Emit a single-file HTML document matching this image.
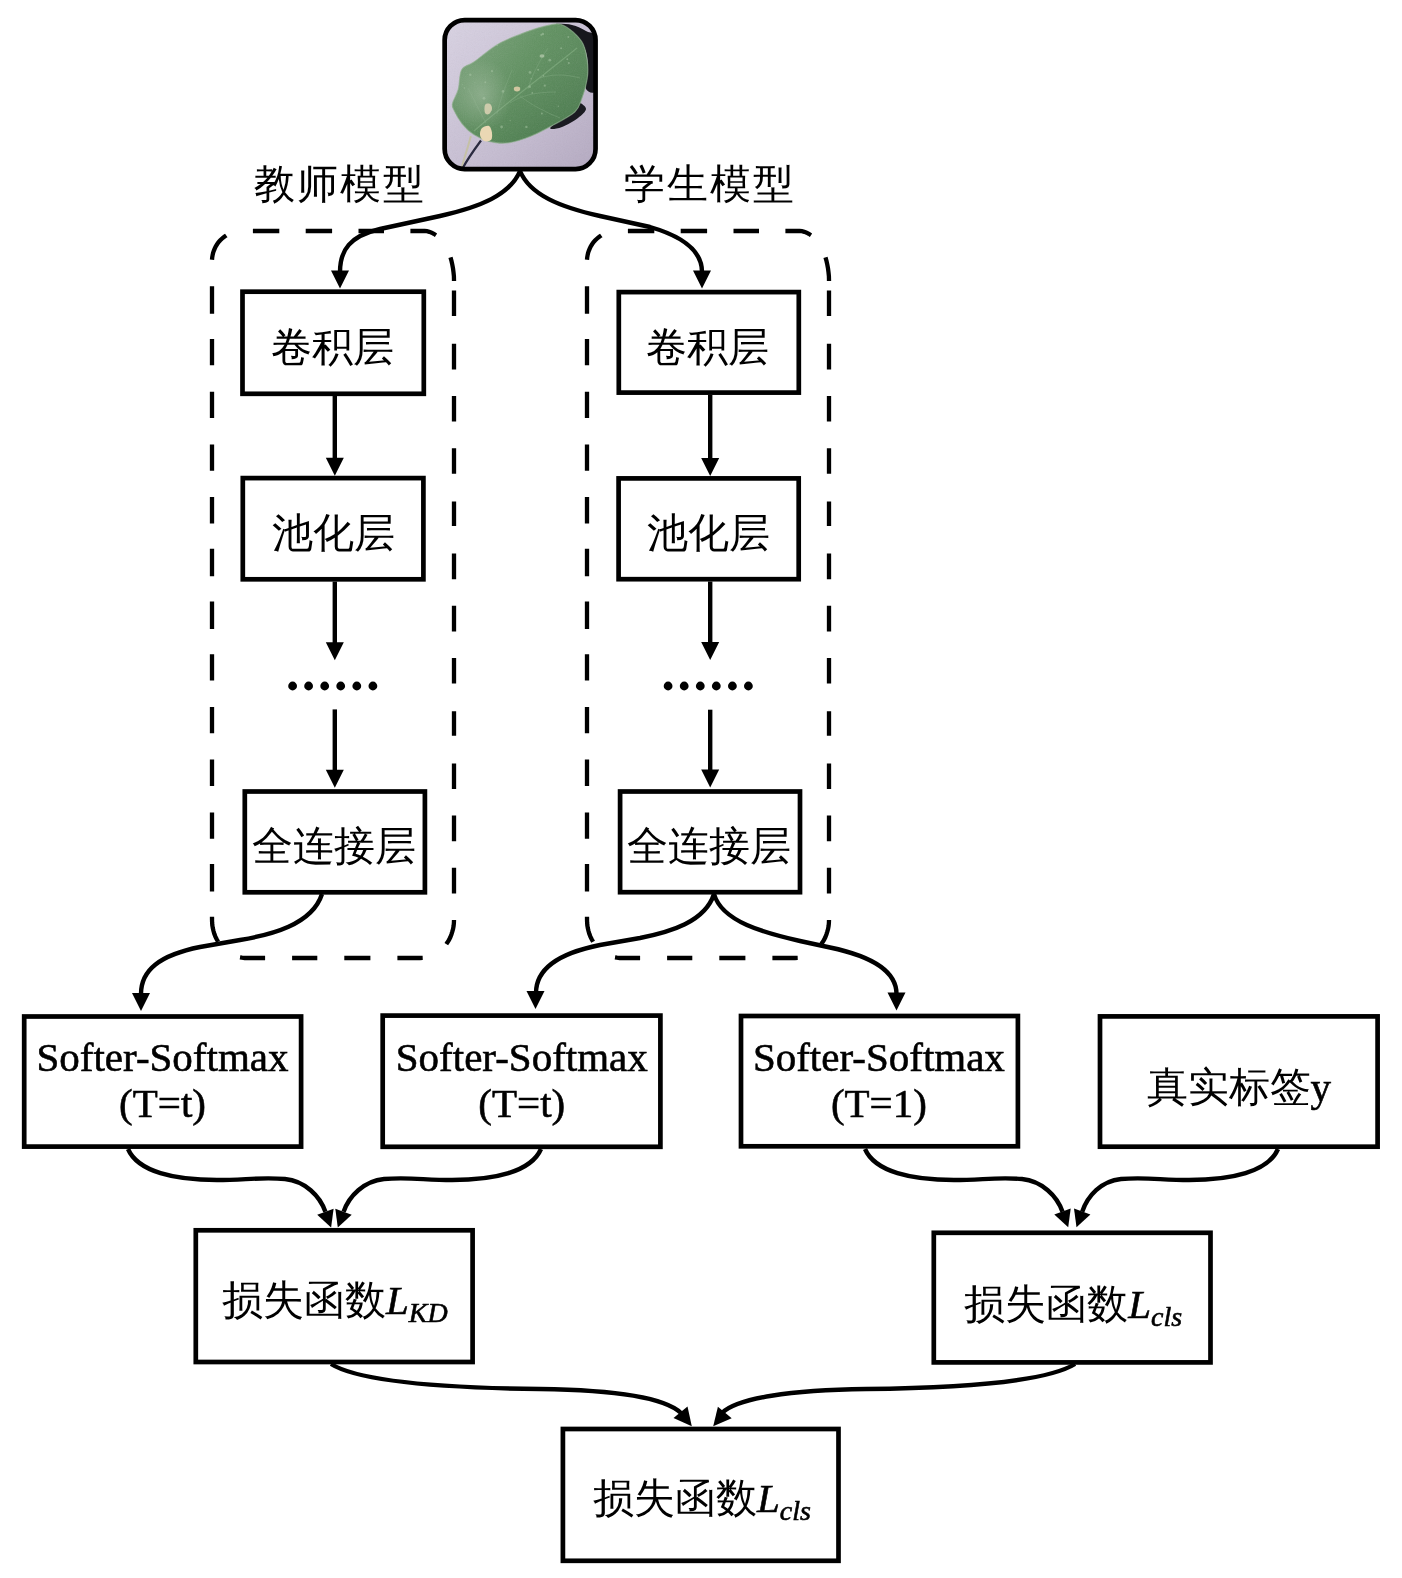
<!DOCTYPE html><html><head><meta charset="utf-8"><style>html,body{margin:0;padding:0;background:#fff;width:1402px;height:1578px;overflow:hidden}svg{display:block;will-change:transform}text{font-family:"Liberation Serif",serif;fill:#000}.lat{stroke:#000;stroke-width:0.6px}</style></head><body>
<svg width="1402" height="1578" viewBox="0 0 1402 1578">
<defs><linearGradient id="bg" x1="0" y1="0" x2="1" y2="1"><stop offset="0" stop-color="#dad4e4"/><stop offset="0.6" stop-color="#c6bdd2"/><stop offset="1" stop-color="#b3a8c0"/></linearGradient><linearGradient id="lf" x1="0" y1="0.2" x2="1" y2="0.8"><stop offset="0" stop-color="#7ca47c"/><stop offset="0.45" stop-color="#5f915f"/><stop offset="1" stop-color="#4c7d4f"/></linearGradient><linearGradient id="lf2" x1="0" y1="0" x2="0.3" y2="1"><stop offset="0" stop-color="#9ab89a" stop-opacity="0"/><stop offset="1" stop-color="#3f6f43" stop-opacity="0.25"/></linearGradient><filter id="nz" x="0" y="0" width="100%" height="100%"><feTurbulence type="fractalNoise" baseFrequency="0.9" numOctaves="2" seed="3"/><feColorMatrix type="saturate" values="0"/></filter><clipPath id="lc"><rect x="444.6" y="20" width="151" height="149" rx="19"/></clipPath></defs>
<clipPath id="leafclip"><path d="M546.1,25.8 C553.3,24.3 557.4,22.7 563.3,25.3 C569.2,27.9 577.5,35.3 581.5,41.2 C585.5,47.1 586.2,54.3 587.2,60.6 C588.2,66.9 588.2,72.4 587.2,78.9 C586.2,85.4 583.6,94.0 581.5,99.5 C579.4,105.0 579.3,107.8 574.7,112.0 C570.1,116.2 561.3,120.6 554.1,124.6 C546.9,128.6 538.9,133.0 531.3,136.0 C523.7,139.0 515.4,141.9 508.5,142.8 C501.6,143.8 495.9,143.0 490.2,141.7 C484.5,140.4 478.8,137.7 474.2,134.8 C469.6,132.0 466.2,128.8 462.8,124.6 C459.4,120.4 455.4,113.3 453.7,109.7 C452.0,106.1 451.8,106.3 452.6,102.9 C453.4,99.5 456.8,94.7 458.3,89.2 C459.8,83.7 459.1,74.4 461.7,69.8 C464.3,65.2 468.3,66.0 474.2,61.8 C480.1,57.6 489.5,49.3 497.1,44.7 C504.7,40.1 511.7,37.5 519.9,34.4 C528.1,31.2 538.9,27.3 546.1,25.8 Z"/></clipPath>
<g clip-path="url(#lc)">
<rect x="440" y="15" width="160" height="160" fill="url(#bg)"/>
<rect x="440" y="15" width="160" height="160" filter="url(#nz)" opacity="0.10"/>
<path d="M556.0,24.0 C557.5,23.7 567.0,23.8 572.0,25.0 C577.0,26.2 582.0,28.5 586.0,31.0 C590.0,33.5 594.2,30.5 596.0,40.0 C597.8,49.5 598.7,79.8 597.0,88.0 C595.3,96.2 587.5,92.0 586.0,89.0 C584.5,86.0 588.0,76.2 588.0,70.0 C588.0,63.8 587.7,57.5 586.0,52.0 C584.3,46.5 581.8,41.2 578.0,37.0 C574.2,32.8 566.7,29.2 563.0,27.0 C559.3,24.8 554.5,24.3 556.0,24.0 Z" fill="#17171d"/>
<path d="M579.0,103.0 C580.9,102.5 586.2,106.5 586.0,109.0 C585.8,111.5 582.0,115.0 578.0,118.0 C574.0,121.0 566.5,125.2 562.0,127.0 C557.5,128.8 552.3,129.4 551.0,129.0 C549.7,128.6 550.0,127.4 554.0,124.6 C558.0,121.8 570.5,115.6 574.7,112.0 C578.9,108.4 577.1,103.5 579.0,103.0 Z" fill="#1b1b22"/>
<path d="M546.1,25.8 C553.3,24.3 557.4,22.7 563.3,25.3 C569.2,27.9 577.5,35.3 581.5,41.2 C585.5,47.1 586.2,54.3 587.2,60.6 C588.2,66.9 588.2,72.4 587.2,78.9 C586.2,85.4 583.6,94.0 581.5,99.5 C579.4,105.0 579.3,107.8 574.7,112.0 C570.1,116.2 561.3,120.6 554.1,124.6 C546.9,128.6 538.9,133.0 531.3,136.0 C523.7,139.0 515.4,141.9 508.5,142.8 C501.6,143.8 495.9,143.0 490.2,141.7 C484.5,140.4 478.8,137.7 474.2,134.8 C469.6,132.0 466.2,128.8 462.8,124.6 C459.4,120.4 455.4,113.3 453.7,109.7 C452.0,106.1 451.8,106.3 452.6,102.9 C453.4,99.5 456.8,94.7 458.3,89.2 C459.8,83.7 459.1,74.4 461.7,69.8 C464.3,65.2 468.3,66.0 474.2,61.8 C480.1,57.6 489.5,49.3 497.1,44.7 C504.7,40.1 511.7,37.5 519.9,34.4 C528.1,31.2 538.9,27.3 546.1,25.8 Z" fill="url(#lf)"/>
<path d="M546.1,25.8 C553.3,24.3 557.4,22.7 563.3,25.3 C569.2,27.9 577.5,35.3 581.5,41.2 C585.5,47.1 586.2,54.3 587.2,60.6 C588.2,66.9 588.2,72.4 587.2,78.9 C586.2,85.4 583.6,94.0 581.5,99.5 C579.4,105.0 579.3,107.8 574.7,112.0 C570.1,116.2 561.3,120.6 554.1,124.6 C546.9,128.6 538.9,133.0 531.3,136.0 C523.7,139.0 515.4,141.9 508.5,142.8 C501.6,143.8 495.9,143.0 490.2,141.7 C484.5,140.4 478.8,137.7 474.2,134.8 C469.6,132.0 466.2,128.8 462.8,124.6 C459.4,120.4 455.4,113.3 453.7,109.7 C452.0,106.1 451.8,106.3 452.6,102.9 C453.4,99.5 456.8,94.7 458.3,89.2 C459.8,83.7 459.1,74.4 461.7,69.8 C464.3,65.2 468.3,66.0 474.2,61.8 C480.1,57.6 489.5,49.3 497.1,44.7 C504.7,40.1 511.7,37.5 519.9,34.4 C528.1,31.2 538.9,27.3 546.1,25.8 Z" fill="url(#lf2)"/>
<path d="M546.1,25.8 C553.3,24.3 557.4,22.7 563.3,25.3 C569.2,27.9 577.5,35.3 581.5,41.2 C585.5,47.1 586.2,54.3 587.2,60.6 C588.2,66.9 588.2,72.4 587.2,78.9 C586.2,85.4 583.6,94.0 581.5,99.5 C579.4,105.0 579.3,107.8 574.7,112.0 C570.1,116.2 561.3,120.6 554.1,124.6 C546.9,128.6 538.9,133.0 531.3,136.0 C523.7,139.0 515.4,141.9 508.5,142.8 C501.6,143.8 495.9,143.0 490.2,141.7 C484.5,140.4 478.8,137.7 474.2,134.8 C469.6,132.0 466.2,128.8 462.8,124.6 C459.4,120.4 455.4,113.3 453.7,109.7 C452.0,106.1 451.8,106.3 452.6,102.9 C453.4,99.5 456.8,94.7 458.3,89.2 C459.8,83.7 459.1,74.4 461.7,69.8 C464.3,65.2 468.3,66.0 474.2,61.8 C480.1,57.6 489.5,49.3 497.1,44.7 C504.7,40.1 511.7,37.5 519.9,34.4 C528.1,31.2 538.9,27.3 546.1,25.8 Z" fill="none" stroke="#8fb08e" stroke-width="1.2" opacity="0.6"/>
<rect x="440" y="15" width="160" height="160" clip-path="url(#leafclip)" filter="url(#nz)" opacity="0.12"/>
<path d="M474,131 C500,108 540,78 577,48" stroke="#8ab488" stroke-width="1.2" fill="none" opacity="0.55"/>
<path d="M497,114 C500,100 506,85 512,70" stroke="#86ad86" stroke-width="0.9" fill="none" opacity="0.45"/>
<path d="M510,103 C520,96 535,92 556,92" stroke="#86ad86" stroke-width="0.9" fill="none" opacity="0.45"/>
<path d="M528,89 C532,75 540,60 548,48" stroke="#86ad86" stroke-width="0.9" fill="none" opacity="0.45"/>
<path d="M540,78 C552,74 565,74 580,78" stroke="#86ad86" stroke-width="0.9" fill="none" opacity="0.45"/>
<path d="M486,123 C480,112 474,100 468,88" stroke="#86ad86" stroke-width="0.9" fill="none" opacity="0.45"/>
<path d="M520,96 C530,104 545,112 560,118" stroke="#86ad86" stroke-width="0.9" fill="none" opacity="0.45"/>
<circle cx="497.1" cy="44.9" r="1.1" fill="#a9c7a6" opacity="0.5" clip-path="url(#leafclip)"/>
<circle cx="464.4" cy="88.0" r="0.8" fill="#a9c7a6" opacity="0.5" clip-path="url(#leafclip)"/>
<circle cx="462.5" cy="84.8" r="0.5" fill="#a9c7a6" opacity="0.5" clip-path="url(#leafclip)"/>
<circle cx="511.4" cy="35.8" r="0.6" fill="#a9c7a6" opacity="0.5" clip-path="url(#leafclip)"/>
<circle cx="510.2" cy="120.6" r="0.6" fill="#a9c7a6" opacity="0.5" clip-path="url(#leafclip)"/>
<circle cx="484.0" cy="98.3" r="1.4" fill="#a9c7a6" opacity="0.5" clip-path="url(#leafclip)"/>
<circle cx="530.0" cy="72.4" r="1.4" fill="#a9c7a6" opacity="0.5" clip-path="url(#leafclip)"/>
<circle cx="461.1" cy="124.1" r="0.8" fill="#a9c7a6" opacity="0.5" clip-path="url(#leafclip)"/>
<circle cx="473.8" cy="41.2" r="0.8" fill="#a9c7a6" opacity="0.5" clip-path="url(#leafclip)"/>
<circle cx="561.1" cy="48.2" r="1.0" fill="#a9c7a6" opacity="0.5" clip-path="url(#leafclip)"/>
<circle cx="538.1" cy="69.7" r="1.0" fill="#a9c7a6" opacity="0.5" clip-path="url(#leafclip)"/>
<circle cx="463.2" cy="34.7" r="0.7" fill="#a9c7a6" opacity="0.5" clip-path="url(#leafclip)"/>
<circle cx="543.5" cy="75.9" r="0.8" fill="#a9c7a6" opacity="0.5" clip-path="url(#leafclip)"/>
<circle cx="531.1" cy="78.8" r="0.8" fill="#a9c7a6" opacity="0.5" clip-path="url(#leafclip)"/>
<circle cx="558.3" cy="106.3" r="0.7" fill="#a9c7a6" opacity="0.5" clip-path="url(#leafclip)"/>
<circle cx="529.7" cy="86.8" r="1.3" fill="#a9c7a6" opacity="0.5" clip-path="url(#leafclip)"/>
<circle cx="549.8" cy="60.2" r="1.4" fill="#a9c7a6" opacity="0.5" clip-path="url(#leafclip)"/>
<circle cx="470.3" cy="74.8" r="1.2" fill="#a9c7a6" opacity="0.5" clip-path="url(#leafclip)"/>
<circle cx="474.8" cy="82.8" r="0.5" fill="#a9c7a6" opacity="0.5" clip-path="url(#leafclip)"/>
<circle cx="541.9" cy="113.6" r="1.0" fill="#a9c7a6" opacity="0.5" clip-path="url(#leafclip)"/>
<circle cx="568.8" cy="63.1" r="1.1" fill="#a9c7a6" opacity="0.5" clip-path="url(#leafclip)"/>
<circle cx="532.3" cy="92.9" r="0.9" fill="#a9c7a6" opacity="0.5" clip-path="url(#leafclip)"/>
<circle cx="564.2" cy="133.8" r="0.9" fill="#a9c7a6" opacity="0.5" clip-path="url(#leafclip)"/>
<circle cx="541.3" cy="34.8" r="1.1" fill="#a9c7a6" opacity="0.5" clip-path="url(#leafclip)"/>
<circle cx="539.1" cy="139.2" r="1.2" fill="#a9c7a6" opacity="0.5" clip-path="url(#leafclip)"/>
<circle cx="492.0" cy="71.2" r="1.1" fill="#a9c7a6" opacity="0.5" clip-path="url(#leafclip)"/>
<circle cx="457.9" cy="79.7" r="0.7" fill="#a9c7a6" opacity="0.5" clip-path="url(#leafclip)"/>
<circle cx="470.2" cy="34.6" r="1.2" fill="#a9c7a6" opacity="0.5" clip-path="url(#leafclip)"/>
<circle cx="471.8" cy="55.7" r="0.9" fill="#a9c7a6" opacity="0.5" clip-path="url(#leafclip)"/>
<circle cx="568.3" cy="37.0" r="0.9" fill="#a9c7a6" opacity="0.5" clip-path="url(#leafclip)"/>
<circle cx="526.4" cy="126.9" r="1.2" fill="#a9c7a6" opacity="0.5" clip-path="url(#leafclip)"/>
<circle cx="567.3" cy="59.2" r="0.9" fill="#a9c7a6" opacity="0.5" clip-path="url(#leafclip)"/>
<circle cx="501.6" cy="127.0" r="1.4" fill="#a9c7a6" opacity="0.5" clip-path="url(#leafclip)"/>
<circle cx="474.6" cy="47.7" r="0.7" fill="#a9c7a6" opacity="0.5" clip-path="url(#leafclip)"/>
<circle cx="485.3" cy="82.3" r="1.0" fill="#a9c7a6" opacity="0.5" clip-path="url(#leafclip)"/>
<circle cx="489.2" cy="28.5" r="0.9" fill="#a9c7a6" opacity="0.5" clip-path="url(#leafclip)"/>
<circle cx="503.0" cy="91.4" r="1.4" fill="#a9c7a6" opacity="0.5" clip-path="url(#leafclip)"/>
<circle cx="544.8" cy="85.7" r="1.1" fill="#a9c7a6" opacity="0.5" clip-path="url(#leafclip)"/>
<circle cx="542.9" cy="34.0" r="1.3" fill="#a9c7a6" opacity="0.5" clip-path="url(#leafclip)"/>
<circle cx="556.4" cy="125.9" r="1.2" fill="#a9c7a6" opacity="0.5" clip-path="url(#leafclip)"/>
<radialGradient id="hl" cx="0.5" cy="0.5" r="0.5"><stop offset="0" stop-color="#b4c8b2" stop-opacity="0.45"/><stop offset="1" stop-color="#b4c8b2" stop-opacity="0"/></radialGradient>
<ellipse cx="482" cy="95" rx="30" ry="36" fill="url(#hl)" clip-path="url(#leafclip)"/>
<path d="M482.0,128.0 C483.5,126.5 487.3,125.2 489.0,126.0 C490.7,126.8 491.7,130.7 492.0,133.0 C492.3,135.3 492.3,138.7 491.0,140.0 C489.7,141.3 485.8,141.8 484.0,141.0 C482.2,140.2 480.3,137.2 480.0,135.0 C479.7,132.8 480.5,129.5 482.0,128.0 Z" fill="#ead8b4"/>
<path d="M485.0,105.0 C485.8,103.5 488.8,103.3 490.0,104.0 C491.2,104.7 492.2,107.3 492.0,109.0 C491.8,110.7 490.2,113.3 489.0,114.0 C487.8,114.7 485.7,114.5 485.0,113.0 C484.3,111.5 484.2,106.5 485.0,105.0 Z" fill="#d6cfb0" opacity="0.9"/>
<ellipse cx="517" cy="89" rx="3.2" ry="2.4" fill="#dccca6" opacity="0.9"/><ellipse cx="542" cy="56" rx="2.5" ry="1.8" fill="#b9cdb0" opacity="0.7"/>
<path d="M470.8,136 C468,148 464,158 461.7,168" stroke="#c5c1a6" stroke-width="2" fill="none"/><path d="M481,140.5 C474,150 467,160 462.8,168" stroke="#2a2a40" stroke-width="2.2" fill="none"/>
</g>
<rect x="444.65" y="20.05" width="150.9" height="149" rx="20" fill="none" stroke="#000" stroke-width="4.7"/>
<text x="340.2" y="198" font-size="41" text-anchor="middle" letter-spacing="2">教师模型</text>
<text x="709.8" y="198" font-size="41" text-anchor="middle" letter-spacing="2">学生模型</text>
<path d="M212.0,259.8 L212.2,257.5 L212.6,255.1 L213.1,252.9 L213.9,250.6 L214.8,248.4 L215.8,246.3 L217.1,244.3 L218.4,242.4 L220.0,240.6 L221.6,239.0 L223.4,237.4 L225.3,236.1 L226.3,235.4 M252.9,231.0 L256.6,231.0 L260.2,231.0 L263.8,231.0 L267.5,231.0 L271.1,231.0 L274.8,231.0 L278.4,231.0 L279.3,231.0 M305.7,231.0 L309.3,231.0 L313.0,231.0 L316.6,231.0 L320.3,231.0 L323.9,231.0 L327.5,231.0 L331.2,231.0 L332.1,231.0 M358.5,231.0 L362.1,231.0 L365.8,231.0 L369.4,231.0 L373.0,231.0 L376.7,231.0 L380.3,231.0 L384.0,231.0 L384.0,231.0 M410.4,231.0 L414.0,231.0 L417.6,231.0 L421.3,231.0 L424.6,231.0 L426.9,231.2 L429.3,231.8 L431.6,232.6 L433.8,233.8 L436.0,235.2 L436.0,235.2 M450.5,257.4 L451.5,261.0 L452.3,264.6 L453.0,268.4 L453.5,272.2 L453.9,276.1 L454.0,280.0 L454.0,281.0 M454.0,290.6 L454.0,294.8 L454.0,299.1 L454.0,303.4 L454.0,307.6 L454.0,311.9 L454.0,316.1 L454.0,316.1 M454.0,343.8 L454.0,348.1 L454.0,352.4 L454.0,356.6 L454.0,360.9 L454.0,365.1 L454.0,369.4 L454.0,369.4 M454.0,396.0 L454.0,400.3 L454.0,404.5 L454.0,408.8 L454.0,413.1 L454.0,417.3 L454.0,421.6 L454.0,421.6 M454.0,448.2 L454.0,452.5 L454.0,456.7 L454.0,461.0 L454.0,465.2 L454.0,469.5 L454.0,473.8 L454.0,473.8 M454.0,501.5 L454.0,505.7 L454.0,510.0 L454.0,514.2 L454.0,518.5 L454.0,522.8 L454.0,526.0 M454.0,553.6 L454.0,557.9 L454.0,562.2 L454.0,566.4 L454.0,570.7 L454.0,574.9 L454.0,579.2 L454.0,579.2 M454.0,605.8 L454.0,610.1 L454.0,614.3 L454.0,618.6 L454.0,622.9 L454.0,627.1 L454.0,631.4 L454.0,631.4 M454.0,658.0 L454.0,662.3 L454.0,666.5 L454.0,670.8 L454.0,675.0 L454.0,679.3 L454.0,683.6 L454.0,683.6 M454.0,711.3 L454.0,715.5 L454.0,719.8 L454.0,724.0 L454.0,728.3 L454.0,732.6 L454.0,735.8 M454.0,763.4 L454.0,767.7 L454.0,772.0 L454.0,776.2 L454.0,780.5 L454.0,784.7 L454.0,789.0 L454.0,789.0 M454.0,815.6 L454.0,819.9 L454.0,824.1 L454.0,828.4 L454.0,832.7 L454.0,836.9 L454.0,841.2 L454.0,841.2 M454.0,867.8 L454.0,872.1 L454.0,876.3 L454.0,880.6 L454.0,884.9 L454.0,889.1 L454.0,893.4 L454.0,893.4 M454.0,920.0 L453.9,923.0 L453.6,925.9 L453.1,928.9 L452.3,931.7 L451.4,934.5 L450.3,937.3 L449.0,939.9 L447.5,942.3 L446.3,944.1 M422.7,957.9 L420.0,958.0 L416.5,958.0 L413.0,958.0 L409.6,958.0 L406.1,958.0 L402.6,958.0 L399.1,958.0 L397.4,958.0 M370.4,958.0 L366.9,958.0 L363.4,958.0 L360.0,958.0 L356.5,958.0 L353.0,958.0 L349.5,958.0 L346.1,958.0 L344.3,958.0 M317.3,958.0 L313.9,958.0 L310.4,958.0 L306.9,958.0 L303.4,958.0 L299.9,958.0 L296.5,958.0 L293.0,958.0 L292.1,958.0 M265.1,958.0 L261.7,958.0 L258.2,958.0 L254.7,958.0 L251.2,958.0 L247.7,958.0 L244.7,958.0 L242.0,957.7 L240.0,957.4 M218.1,941.7 L216.7,939.2 L215.4,936.6 L214.3,933.8 L213.5,931.0 L212.8,928.1 L212.3,925.2 L212.1,922.2 L212.0,918.9 L212.0,916.7 M212.0,313.7 L212.0,309.3 L212.0,304.9 L212.0,300.5 L212.0,296.1 L212.0,291.8 L212.0,287.4 L212.0,286.3 M212.0,365.3 L212.0,360.9 L212.0,356.6 L212.0,352.2 L212.0,347.8 L212.0,343.4 L212.0,339.0 L212.0,339.0 M212.0,418.1 L212.0,413.7 L212.0,409.3 L212.0,404.9 L212.0,400.5 L212.0,396.1 L212.0,391.7 L212.0,391.7 M212.0,470.8 L212.0,466.4 L212.0,462.0 L212.0,457.6 L212.0,453.2 L212.0,448.8 L212.0,444.4 L212.0,444.4 M212.0,523.5 L212.0,519.1 L212.0,514.7 L212.0,510.3 L212.0,505.9 L212.0,501.5 L212.0,497.1 L212.0,497.1 M212.0,576.2 L212.0,571.8 L212.0,567.4 L212.0,563.0 L212.0,558.6 L212.0,554.3 L212.0,549.9 L212.0,548.8 M212.0,628.9 L212.0,624.5 L212.0,620.2 L212.0,615.8 L212.0,611.4 L212.0,607.0 L212.0,602.6 L212.0,601.5 M212.0,680.6 L212.0,676.2 L212.0,671.8 L212.0,667.4 L212.0,663.0 L212.0,658.6 L212.0,654.2 L212.0,654.2 M212.0,733.3 L212.0,728.9 L212.0,724.5 L212.0,720.1 L212.0,715.7 L212.0,711.3 L212.0,706.9 L212.0,706.9 M212.0,786.0 L212.0,781.6 L212.0,777.2 L212.0,772.8 L212.0,768.4 L212.0,764.0 L212.0,759.6 L212.0,759.6 M212.0,838.7 L212.0,834.3 L212.0,829.9 L212.0,825.5 L212.0,821.1 L212.0,816.8 L212.0,812.4 L212.0,812.4 M212.0,891.4 L212.0,887.0 L212.0,882.7 L212.0,878.3 L212.0,873.9 L212.0,869.5 L212.0,865.1 L212.0,864.0" fill="none" stroke="#000" stroke-width="4.3"/>
<path d="M587.0,259.8 L587.2,257.5 L587.6,255.1 L588.1,252.9 L588.9,250.6 L589.8,248.4 L590.8,246.3 L592.1,244.3 L593.4,242.4 L595.0,240.6 L596.6,239.0 L598.4,237.4 L600.3,236.1 L601.3,235.4 M627.9,231.0 L631.6,231.0 L635.2,231.0 L638.8,231.0 L642.5,231.0 L646.1,231.0 L649.8,231.0 L653.4,231.0 L654.3,231.0 M680.7,231.0 L684.3,231.0 L688.0,231.0 L691.6,231.0 L695.3,231.0 L698.9,231.0 L702.5,231.0 L706.2,231.0 L707.1,231.0 M733.5,231.0 L737.1,231.0 L740.8,231.0 L744.4,231.0 L748.0,231.0 L751.7,231.0 L755.3,231.0 L759.0,231.0 L759.0,231.0 M785.4,231.0 L789.0,231.0 L792.6,231.0 L796.3,231.0 L799.6,231.0 L801.9,231.2 L804.3,231.8 L806.6,232.6 L808.8,233.8 L811.0,235.2 L811.0,235.2 M825.5,257.4 L826.5,261.0 L827.3,264.6 L828.0,268.4 L828.5,272.2 L828.9,276.1 L829.0,280.0 L829.0,281.0 M829.0,290.6 L829.0,294.8 L829.0,299.1 L829.0,303.4 L829.0,307.6 L829.0,311.9 L829.0,316.1 L829.0,316.1 M829.0,343.8 L829.0,348.1 L829.0,352.4 L829.0,356.6 L829.0,360.9 L829.0,365.1 L829.0,369.4 L829.0,369.4 M829.0,396.0 L829.0,400.3 L829.0,404.5 L829.0,408.8 L829.0,413.1 L829.0,417.3 L829.0,421.6 L829.0,421.6 M829.0,448.2 L829.0,452.5 L829.0,456.7 L829.0,461.0 L829.0,465.2 L829.0,469.5 L829.0,473.8 L829.0,473.8 M829.0,501.5 L829.0,505.7 L829.0,510.0 L829.0,514.2 L829.0,518.5 L829.0,522.8 L829.0,526.0 M829.0,553.6 L829.0,557.9 L829.0,562.2 L829.0,566.4 L829.0,570.7 L829.0,574.9 L829.0,579.2 L829.0,579.2 M829.0,605.8 L829.0,610.1 L829.0,614.3 L829.0,618.6 L829.0,622.9 L829.0,627.1 L829.0,631.4 L829.0,631.4 M829.0,658.0 L829.0,662.3 L829.0,666.5 L829.0,670.8 L829.0,675.0 L829.0,679.3 L829.0,683.6 L829.0,683.6 M829.0,711.3 L829.0,715.5 L829.0,719.8 L829.0,724.0 L829.0,728.3 L829.0,732.6 L829.0,735.8 M829.0,763.4 L829.0,767.7 L829.0,772.0 L829.0,776.2 L829.0,780.5 L829.0,784.7 L829.0,789.0 L829.0,789.0 M829.0,815.6 L829.0,819.9 L829.0,824.1 L829.0,828.4 L829.0,832.7 L829.0,836.9 L829.0,841.2 L829.0,841.2 M829.0,867.8 L829.0,872.1 L829.0,876.3 L829.0,880.6 L829.0,884.9 L829.0,889.1 L829.0,893.4 L829.0,893.4 M829.0,920.0 L828.9,923.0 L828.6,925.9 L828.1,928.9 L827.3,931.7 L826.4,934.5 L825.3,937.3 L824.0,939.9 L822.5,942.3 L821.3,944.1 M797.7,957.9 L795.0,958.0 L791.5,958.0 L788.0,958.0 L784.6,958.0 L781.1,958.0 L777.6,958.0 L774.1,958.0 L772.4,958.0 M745.4,958.0 L741.9,958.0 L738.5,958.0 L735.0,958.0 L731.5,958.0 L728.0,958.0 L724.5,958.0 L721.0,958.0 L719.3,958.0 M692.3,958.0 L688.9,958.0 L685.4,958.0 L681.9,958.0 L678.4,958.0 L674.9,958.0 L671.5,958.0 L668.0,958.0 L667.1,958.0 M640.1,958.0 L636.7,958.0 L633.2,958.0 L629.7,958.0 L626.2,958.0 L622.7,958.0 L619.7,958.0 L617.0,957.7 L615.0,957.4 M593.1,941.7 L591.7,939.2 L590.4,936.6 L589.3,933.8 L588.5,931.0 L587.8,928.1 L587.3,925.2 L587.1,922.2 L587.0,918.9 L587.0,916.7 M587.0,313.7 L587.0,309.3 L587.0,304.9 L587.0,300.5 L587.0,296.1 L587.0,291.8 L587.0,287.4 L587.0,286.3 M587.0,365.3 L587.0,360.9 L587.0,356.6 L587.0,352.2 L587.0,347.8 L587.0,343.4 L587.0,339.0 L587.0,339.0 M587.0,418.1 L587.0,413.7 L587.0,409.3 L587.0,404.9 L587.0,400.5 L587.0,396.1 L587.0,391.7 L587.0,391.7 M587.0,470.8 L587.0,466.4 L587.0,462.0 L587.0,457.6 L587.0,453.2 L587.0,448.8 L587.0,444.4 L587.0,444.4 M587.0,523.5 L587.0,519.1 L587.0,514.7 L587.0,510.3 L587.0,505.9 L587.0,501.5 L587.0,497.1 L587.0,497.1 M587.0,576.2 L587.0,571.8 L587.0,567.4 L587.0,563.0 L587.0,558.6 L587.0,554.3 L587.0,549.9 L587.0,548.8 M587.0,628.9 L587.0,624.5 L587.0,620.2 L587.0,615.8 L587.0,611.4 L587.0,607.0 L587.0,602.6 L587.0,601.5 M587.0,680.6 L587.0,676.2 L587.0,671.8 L587.0,667.4 L587.0,663.0 L587.0,658.6 L587.0,654.2 L587.0,654.2 M587.0,733.3 L587.0,728.9 L587.0,724.5 L587.0,720.1 L587.0,715.7 L587.0,711.3 L587.0,706.9 L587.0,706.9 M587.0,786.0 L587.0,781.6 L587.0,777.2 L587.0,772.8 L587.0,768.4 L587.0,764.0 L587.0,759.6 L587.0,759.6 M587.0,838.7 L587.0,834.3 L587.0,829.9 L587.0,825.5 L587.0,821.1 L587.0,816.8 L587.0,812.4 L587.0,812.4 M587.0,891.4 L587.0,887.0 L587.0,882.7 L587.0,878.3 L587.0,873.9 L587.0,869.5 L587.0,865.1 L587.0,864.0" fill="none" stroke="#000" stroke-width="4.3"/>
<rect x="242.5" y="291.7" width="181.3" height="102.1" fill="none" stroke="#000" stroke-width="4.7"/>
<rect x="242.8" y="478.1" width="180.6" height="101.2" fill="none" stroke="#000" stroke-width="4.7"/>
<rect x="244.8" y="791.5" width="180.1" height="100.8" fill="none" stroke="#000" stroke-width="4.7"/>
<rect x="618.8" y="292.1" width="180.0" height="100.5" fill="none" stroke="#000" stroke-width="4.7"/>
<rect x="618.6" y="478.4" width="180.1" height="100.8" fill="none" stroke="#000" stroke-width="4.7"/>
<rect x="620.1" y="791.5" width="179.9" height="100.7" fill="none" stroke="#000" stroke-width="4.7"/>
<text x="332.6" y="361" font-size="41" text-anchor="middle" >卷积层</text>
<text x="333" y="547" font-size="41" text-anchor="middle" >池化层</text>
<text x="334" y="860" font-size="41" text-anchor="middle" >全连接层</text>
<text x="707.5" y="361" font-size="41" text-anchor="middle" >卷积层</text>
<text x="708" y="547" font-size="41" text-anchor="middle" >池化层</text>
<text x="709.3" y="860" font-size="41" text-anchor="middle" >全连接层</text>
<circle cx="292.6" cy="686" r="4.4" fill="#000"/>
<circle cx="308.6" cy="686" r="4.4" fill="#000"/>
<circle cx="324.7" cy="686" r="4.4" fill="#000"/>
<circle cx="340.7" cy="686" r="4.4" fill="#000"/>
<circle cx="356.8" cy="686" r="4.4" fill="#000"/>
<circle cx="372.9" cy="686" r="4.4" fill="#000"/>
<circle cx="668.1" cy="686" r="4.4" fill="#000"/>
<circle cx="684.2" cy="686" r="4.4" fill="#000"/>
<circle cx="700.3" cy="686" r="4.4" fill="#000"/>
<circle cx="716.3" cy="686" r="4.4" fill="#000"/>
<circle cx="732.4" cy="686" r="4.4" fill="#000"/>
<circle cx="748.4" cy="686" r="4.4" fill="#000"/>
<path d="M334.8,396 L334.8,459.7" fill="none" stroke="#000" stroke-width="4.4"/>
<polygon points="334.8,475.7 325.8,457.7 343.8,457.7" fill="#000"/>
<path d="M334.8,581.6 L334.8,644.2" fill="none" stroke="#000" stroke-width="4.4"/>
<polygon points="334.8,660.2 325.8,642.2 343.8,642.2" fill="#000"/>
<path d="M334.8,709.4 L334.8,771.7" fill="none" stroke="#000" stroke-width="4.4"/>
<polygon points="334.8,787.7 325.8,769.7 343.8,769.7" fill="#000"/>
<path d="M710.2,395 L710.2,460" fill="none" stroke="#000" stroke-width="4.4"/>
<polygon points="710.2,476.0 701.2,458.0 719.2,458.0" fill="#000"/>
<path d="M710.2,581.5 L710.2,643.9" fill="none" stroke="#000" stroke-width="4.4"/>
<polygon points="710.2,659.9 701.2,641.9 719.2,641.9" fill="#000"/>
<path d="M710.2,709.7 L710.2,771.4" fill="none" stroke="#000" stroke-width="4.4"/>
<polygon points="710.2,787.4 701.2,769.4 719.2,769.4" fill="#000"/>
<path d="M520,171 C510,195 480,207 440,216 L380,229 C350,236 340,250 340,272" fill="none" stroke="#000" stroke-width="4.4"/>
<polygon points="340.0,288.5 331.0,270.5 349.0,270.5" fill="#000"/>
<path d="M520,171 C530,195 560,207 600,216 L650,227 C685,237 702,252 702,272" fill="none" stroke="#000" stroke-width="4.4"/>
<polygon points="702.0,288.5 693.0,270.5 711.0,270.5" fill="#000"/>
<rect x="24.2" y="1016.5" width="276.9" height="130.1" fill="none" stroke="#000" stroke-width="4.7"/>
<rect x="382.7" y="1015.6" width="277.7" height="131.2" fill="none" stroke="#000" stroke-width="4.7"/>
<rect x="741.0" y="1016.0" width="276.9" height="130.3" fill="none" stroke="#000" stroke-width="4.7"/>
<rect x="1100.0" y="1016.4" width="277.6" height="130.3" fill="none" stroke="#000" stroke-width="4.7"/>
<text x="162.5" y="1071" font-size="41" text-anchor="middle" class="lat">Softer-Softmax</text>
<text x="162.5" y="1117.4" font-size="41" text-anchor="middle" class="lat">(T=t)</text>
<text x="521.8" y="1071" font-size="41" text-anchor="middle" class="lat">Softer-Softmax</text>
<text x="521.8" y="1117.4" font-size="41" text-anchor="middle" class="lat">(T=t)</text>
<text x="878.9" y="1071" font-size="41" text-anchor="middle" class="lat">Softer-Softmax</text>
<text x="878.9" y="1117.4" font-size="41" text-anchor="middle" class="lat">(T=1)</text>
<text x="1238.8" y="1101" font-size="41" text-anchor="middle">真实标签<tspan class="lat">y</tspan></text>
<path d="M322,894 C312,925 270,935 240,940 L200,947 C160,955 141,970 141,994" fill="none" stroke="#000" stroke-width="4.4"/>
<polygon points="141.0,1011.0 132.0,993.0 150.0,993.0" fill="#000"/>
<path d="M714,894 C705,922 670,932 640,938 L600,945 C560,953 536,968 536,993" fill="none" stroke="#000" stroke-width="4.4"/>
<polygon points="535.5,1009.0 526.5,991.0 544.5,991.0" fill="#000"/>
<path d="M714,894 C722,922 765,933 800,941 L830,947.5 C880,958 896.5,975 896.5,994" fill="none" stroke="#000" stroke-width="4.4"/>
<polygon points="896.5,1010.5 887.5,992.5 905.5,992.5" fill="#000"/>
<rect x="195.8" y="1230.3" width="276.8" height="131.7" fill="none" stroke="#000" stroke-width="4.7"/>
<rect x="933.8" y="1232.8" width="276.7" height="129.6" fill="none" stroke="#000" stroke-width="4.7"/>
<rect x="562.9" y="1429.0" width="275.6" height="131.8" fill="none" stroke="#000" stroke-width="4.7"/>
<path d="M128,1149 C138,1172 175,1180 217,1180 C245,1180 260,1177 285,1179 C305,1181 320.0,1196 325.4,1211.8" fill="none" stroke="#000" stroke-width="4.4"/>
<polygon points="331.1,1227.4 317.2,1214.7 333.6,1208.7" fill="#000"/>
<path d="M541,1149 C531,1172 494,1180 452,1180 C424,1180 409,1177 384,1179 C364,1181 348.9,1196 343.6,1211.8" fill="none" stroke="#000" stroke-width="4.4"/>
<polygon points="337.8,1227.4 335.3,1208.7 351.7,1214.7" fill="#000"/>
<path d="M865,1149 C875,1172 912,1180 954,1180 C982,1180 997,1177 1022,1179 C1042,1181 1057.1,1196 1062.5,1211.7" fill="none" stroke="#000" stroke-width="4.4"/>
<polygon points="1068.2,1227.3 1054.3,1214.6 1070.7,1208.6" fill="#000"/>
<path d="M1278,1149 C1268,1172 1231,1180 1189,1180 C1161,1180 1146,1177 1121,1179 C1101,1181 1087.6,1196 1082.2,1211.7" fill="none" stroke="#000" stroke-width="4.4"/>
<polygon points="1076.5,1227.3 1074.0,1208.6 1090.4,1214.6" fill="#000"/>
<path d="M331,1364 C360,1382 450,1388 540,1389 C615,1390 665,1398 681,1413" fill="none" stroke="#000" stroke-width="4.4"/>
<polygon points="691.8,1426.3 673.5,1418.0 687.5,1406.6" fill="#000"/>
<path d="M1075,1364 C1046,1382 956,1388 866,1389 C791,1390 737,1398 722,1413" fill="none" stroke="#000" stroke-width="4.4"/>
<polygon points="713.2,1426.3 717.9,1406.7 731.7,1418.3" fill="#000"/>
<text x="222" y="1314" font-size="41">损失函数<tspan class="lat" font-style="italic">L</tspan><tspan class="lat" font-style="italic" font-size="28" dy="8">KD</tspan></text>
<text x="964.3" y="1318" font-size="41">损失函数<tspan class="lat" font-style="italic">L</tspan><tspan class="lat" font-style="italic" font-size="28" dy="8">cls</tspan></text>
<text x="593" y="1512" font-size="41">损失函数<tspan class="lat" font-style="italic">L</tspan><tspan class="lat" font-style="italic" font-size="28" dy="8">cls</tspan></text>
</svg></body></html>
